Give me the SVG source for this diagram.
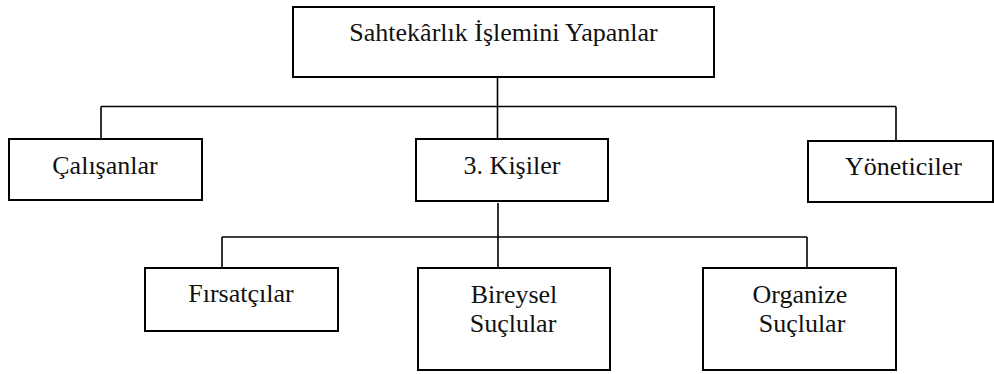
<svg xmlns="http://www.w3.org/2000/svg" width="994" height="374" viewBox="0 0 994 374">
  <style>
    .box { fill: #ffffff; stroke: #000000; stroke-width: 2; }
    .wire { fill: none; stroke: #000000; stroke-width: 1.6; }
    .nodetext { font-family: 'Liberation Serif', 'Times New Roman', serif; font-size: 26px; fill: #111111; text-anchor: middle; }
  </style>
  <rect width="994" height="374" fill="#ffffff"/>

  <!-- tree connectors -->
  <g id="connectors">
    <path class="wire" d="M497.5 77 V106.5"/>
    <path class="wire" d="M101 106.5 H896"/>
    <path class="wire" d="M101 106.5 V139"/>
    <path class="wire" d="M497.5 106.5 V139"/>
    <path class="wire" d="M896 106.5 V141"/>
    <path class="wire" d="M498 203 V268"/>
    <path class="wire" d="M222 237 H807"/>
    <path class="wire" d="M222 237 V268"/>
    <path class="wire" d="M807 237 V268"/>
  </g>

  <g id="root">
    <rect class="box" x="293" y="7" width="421" height="70"/>
    <text class="nodetext" x="503.5" y="40.5">Sahtekârlık İşlemini Yapanlar</text>
  </g>

  <g id="calisanlar">
    <rect class="box" x="9" y="139" width="193" height="61"/>
    <text class="nodetext" x="105" y="174">Çalışanlar</text>
  </g>

  <g id="kisiler">
    <rect class="box" x="416" y="139" width="192" height="62"/>
    <text class="nodetext" x="512" y="173.5">3. Kişiler</text>
  </g>

  <g id="yoneticiler">
    <rect class="box" x="808" y="141" width="185" height="61"/>
    <text class="nodetext" x="903.5" y="175">Yöneticiler</text>
  </g>

  <g id="firsatcilar">
    <rect class="box" x="145" y="268" width="193" height="63"/>
    <text class="nodetext" x="241" y="302">Fırsatçılar</text>
  </g>

  <g id="bireysel">
    <rect class="box" x="418" y="268" width="192" height="102"/>
    <text class="nodetext" x="514" y="303">Bireysel</text>
    <text class="nodetext" x="513" y="332">Suçlular</text>
  </g>

  <g id="organize">
    <rect class="box" x="703" y="268" width="193" height="102"/>
    <text class="nodetext" x="800" y="303">Organize</text>
    <text class="nodetext" x="802" y="332">Suçlular</text>
  </g>
</svg>
